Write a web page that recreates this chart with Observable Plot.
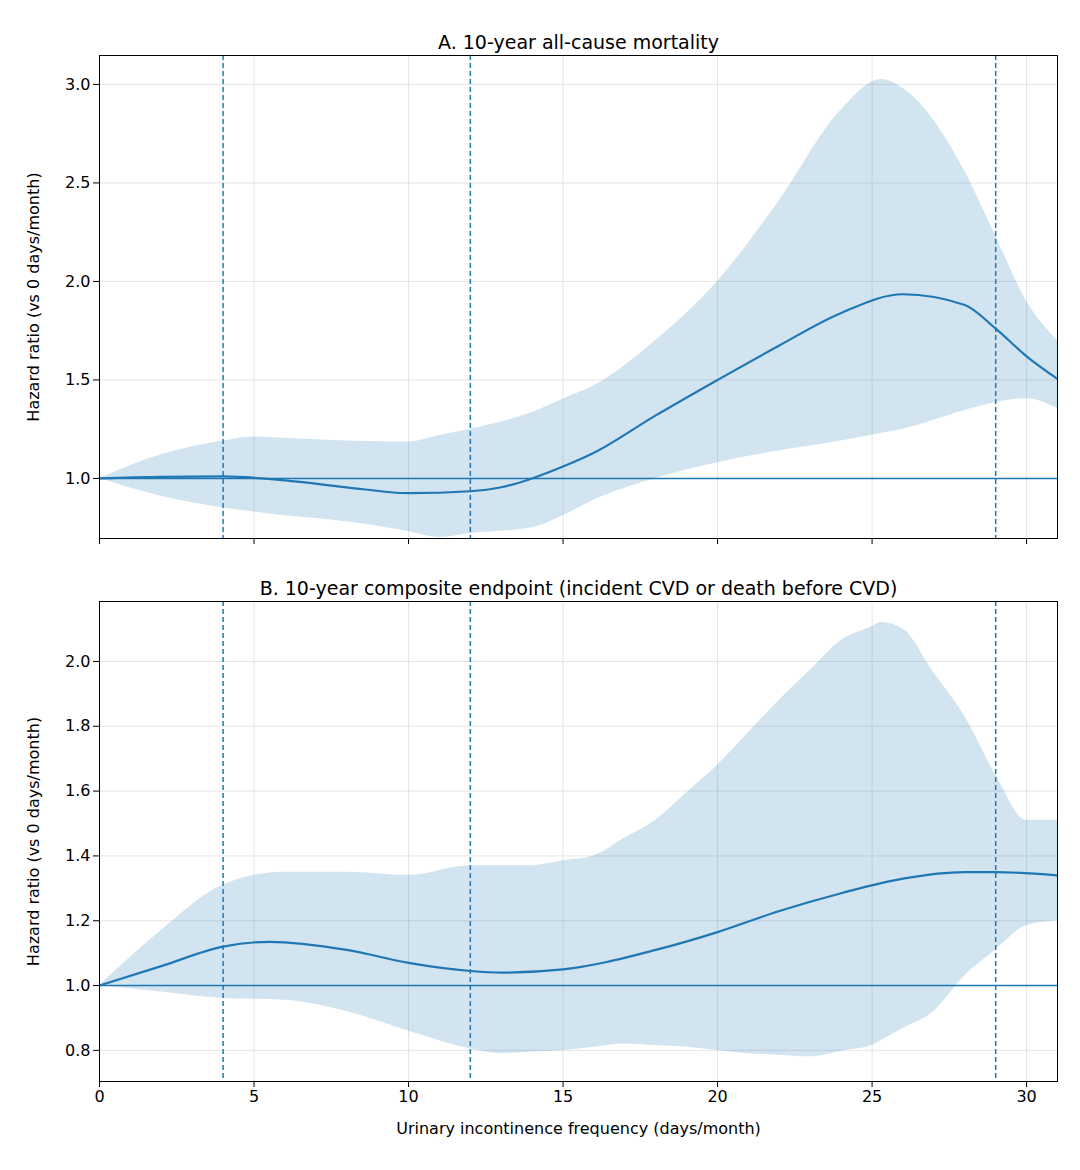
<!DOCTYPE html>
<html><head><meta charset="utf-8">
<script src="https://cdn.jsdelivr.net/npm/d3@7"></script>
<script src="https://cdn.jsdelivr.net/npm/@observablehq/plot@0.6"></script>
<style>body{margin:0;background:#fff;font-family:"DejaVu Sans",sans-serif}svg{display:block}</style>
</head><body><div id="a"></div><div id="b"></div>
<script>
const titleA = "A. 10-year all-cause mortality";
const titleB = "B. 10-year composite endpoint (incident CVD or death before CVD)";
const yLabel = "Hazard ratio (vs 0 days/month)";
const xLabel = "Urinary incontinence frequency (days/month)";
const knots = [4, 12, 29];
const xTicks = [0, 5, 10, 15, 20, 25, 30];
const yTicksA = [1.0, 1.5, 2.0, 2.5, 3.0];
const yTicksB = [0.8, 1.0, 1.2, 1.4, 1.6, 1.8, 2.0];

const estAx = [0, 2, 4, 6, 8, 10, 12, 13, 14, 15, 16, 18, 20, 22, 24, 26, 28, 29, 30, 31];
const estAy = [1.0, 1.008, 1.01, 0.99, 0.955, 0.925, 0.935, 0.955, 1.0, 1.06, 1.13, 1.32, 1.5, 1.675, 1.84, 1.935, 1.88, 1.76, 1.62, 1.505];
const hiAx = [0, 2, 4, 5, 8, 10, 12, 14, 16, 18, 20, 22, 24, 25.3, 26, 28, 29, 30, 31];
const hiAy = [1.0, 1.12, 1.19, 1.21, 1.19, 1.185, 1.25, 1.335, 1.47, 1.70, 2.0, 2.41, 2.87, 3.025, 2.98, 2.56, 2.23, 1.9, 1.70];
const loAx = [0, 2, 4, 6, 8, 10, 11, 12, 14, 15, 16, 18, 20, 22, 24, 26, 28, 29, 30, 31];
const loAy = [1.0, 0.91, 0.85, 0.81, 0.78, 0.73, 0.70, 0.72, 0.75, 0.81, 0.89, 1.0, 1.08, 1.14, 1.19, 1.25, 1.345, 1.385, 1.405, 1.355];

const estBx = [0, 2, 4, 5.5, 8, 10, 12, 13, 15, 18, 20, 22, 24, 26, 28, 29, 31];
const estBy = [1.0, 1.06, 1.12, 1.135, 1.11, 1.07, 1.045, 1.04, 1.05, 1.11, 1.165, 1.23, 1.285, 1.33, 1.35, 1.35, 1.34];
const hiBx = [0, 2, 4, 6, 8, 10, 12, 14, 16, 18, 20, 22, 24, 25.3, 26, 28, 29, 30, 31];
const hiBy = [1.0, 1.17, 1.31, 1.35, 1.35, 1.34, 1.37, 1.37, 1.40, 1.51, 1.68, 1.88, 2.065, 2.12, 2.1, 1.83, 1.65, 1.51, 1.51];
const loBx = [0, 2, 4, 6, 8, 10, 12, 13, 15, 17, 19, 21, 23, 25, 27, 28, 29, 30, 31];
const loBy = [1.0, 0.98, 0.96, 0.955, 0.92, 0.86, 0.805, 0.79, 0.80, 0.82, 0.81, 0.79, 0.78, 0.815, 0.92, 1.03, 1.11, 1.185, 1.20];

const blue = "#1f77b4";
function band(hx, hy, lx, ly) {
  const xs = d3.range(0, 31.001, 0.1);
  const fh = d3.scaleLinear().domain(hx).range(hy);
  const fl = d3.scaleLinear().domain(lx).range(ly);
  // smooth via monotone spline through read points
  return {hi: hx.map((x,i)=>({x, y: hy[i]})), lo: lx.map((x,i)=>({x, y: ly[i]}))};
}
function panel(id, title, ex, ey, hx, hy, lx, ly, ydom, yticks, showX, height, mt, mb) {
  const est = ex.map((x,i)=>({x, y: ey[i]}));
  // Build band using a common grid from smooth curves
  const grid = d3.range(0, 31.0001, 0.25);
  const interp = (xs, ys) => {
    const path = d3.line().curve(d3.curveMonotoneX);
    const sp = d3.curveMonotoneX;
    // sample monotone curve by evaluating piecewise via SVG path
    const svg = d3.create("svg");
    const p = svg.append("path").attr("d", d3.line().curve(d3.curveMonotoneX)(xs.map((x,i)=>[x*100, ys[i]*1000]))).node();
    return p;
  };
  const hi = hx.map((x,i)=>({x, y1: hy[i]}));
  const lo = lx.map((x,i)=>({x, y2: ly[i]}));
  // combine on union grid with linear interpolation (points are dense)
  const xsU = Array.from(new Set([...hx, ...lx])).sort((a,b)=>a-b);
  const fh = d3.scaleLinear().domain(hx).range(hy);
  const fl = d3.scaleLinear().domain(lx).range(ly);
  const bandData = xsU.map(x => ({x, y1: fl(x), y2: fh(x)}));
  const p = Plot.plot({
    width: 1080, height, marginLeft: 99, marginRight: 23, marginTop: mt, marginBottom: mb,
    style: {fontSize: "16px", fontFamily: "DejaVu Sans, sans-serif", color: "#000"},
    x: {domain: [0, 31], ticks: xTicks, tickFormat: showX ? d3.format("d") : () => "", label: showX ? xLabel : null, labelAnchor: "center", labelArrow: "none", labelOffset: 50, tickSize: 6},
    y: {domain: ydom, ticks: yticks, tickFormat: ".1f", label: yLabel, labelAnchor: "center", labelArrow: "none", labelOffset: 70, tickSize: 6},
    marks: [
      Plot.gridX(xTicks, {stroke: "#ccc", strokeOpacity: 0.5}),
      Plot.gridY(yticks, {stroke: "#ccc", strokeOpacity: 0.5}),
      Plot.areaY(bandData, {x: "x", y1: "y1", y2: "y2", fill: blue, fillOpacity: 0.2, curve: "monotone-x", clip: true}),
      Plot.ruleY([1], {stroke: blue, strokeWidth: 1.5}),
      Plot.ruleX(knots, {stroke: blue, strokeWidth: 1.5, strokeDasharray: "5,3"}),
      Plot.line(est, {x: "x", y: "y", stroke: blue, strokeWidth: 2.2, curve: "monotone-x", clip: true}),
      Plot.frame({stroke: "#000"}),
      Plot.axisX({ticks: xTicks, tickFormat: showX ? d3.format("d") : () => "", label: showX ? xLabel : null, labelAnchor: "center", labelArrow: "none", labelOffset: 52, tickSize: 6}),
      Plot.axisY({ticks: yticks, tickFormat: ".1f", label: yLabel, labelAnchor: "center", labelArrow: "none", labelOffset: 72, tickSize: 6}),
      Plot.text([title], {frameAnchor: "top", dy: -20, fontSize: 19})
    ]
  });
  document.getElementById(id).appendChild(p);
}
panel("a", titleA, estAx, estAy, hiAx, hiAy, loAx, loAy, [0.695, 3.147], yTicksA, false, 560, 55, 22);
panel("b", titleB, estBx, estBy, hiBx, hiBy, loBx, loBy, [0.704, 2.185], yTicksB, true, 610, 41, 89);
</script></body></html>
